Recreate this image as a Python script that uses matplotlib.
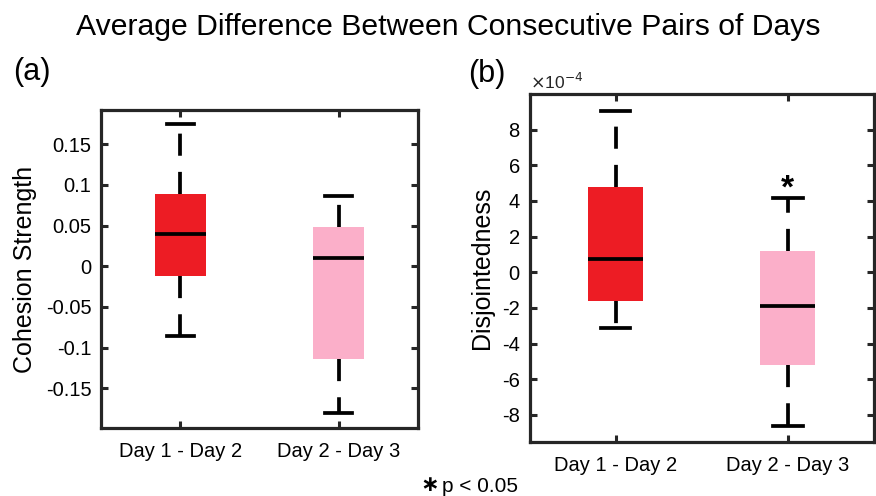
import matplotlib
matplotlib.use("Agg")
import matplotlib.pyplot as plt

plt.rcParams['font.family'] = ['Liberation Sans', 'DejaVu Sans']

categories = ["Day 1 - Day 2", "Day 2 - Day 3"]
box_colors = ["#ED1C24", "#FBAFC9"]

# Panel (a): Cohesion Strength
coh_whislo = [-0.0857, -0.1808]
coh_q1 = [-0.0115, -0.1143]
coh_med = [0.0400, 0.0106]
coh_q3 = [0.0893, 0.0480]
coh_whishi = [0.1750, 0.0864]

# Panel (b): Disjointedness (in units of 1e-4)
dis_whislo = [-3.14, -8.61]
dis_q1 = [-1.59, -5.19]
dis_med = [0.76, -1.90]
dis_q3 = [4.76, 1.19]
dis_whishi = [9.03, 4.14]

coh_ticks = [-0.15, -0.1, -0.05, 0, 0.05, 0.1, 0.15]
coh_ticklabels = ["-0.15", "-0.1", "-0.05", "0", "0.05", "0.1", "0.15"]
dis_ticks = [-8, -6, -4, -2, 0, 2, 4, 6, 8]
dis_ticklabels = ["-8", "-6", "-4", "-2", "0", "2", "4", "6", "8"]

fig = plt.figure(figsize=(8.76, 4.96), dpi=100)

frame_color = "#262626"
lw = 2.7


def draw_panel(ax, lo, q1, med, q3, hi, ylim, ticks, ticklabels, ylabel):
    stats = []
    for i in range(len(categories)):
        stats.append(dict(whislo=lo[i], q1=q1[i], med=med[i], q3=q3[i],
                          whishi=hi[i], label=categories[i]))
    bp = ax.bxp(stats, positions=[1, 2], widths=0.32, patch_artist=True,
                showfliers=False, capwidths=0.17,
                boxprops=dict(linewidth=0),
                medianprops=dict(color="black", linewidth=lw),
                whiskerprops=dict(color="black", linewidth=lw,
                                  linestyle=(0, (5.9, 4.3))),
                capprops=dict(color="black", linewidth=lw))
    for patch, c in zip(bp['boxes'], box_colors):
        patch.set_facecolor(c)
        patch.set_edgecolor(c)
    ax.set_xlim(0.5, 2.5)
    ax.set_ylim(*ylim)
    ax.set_yticks(ticks)
    ax.set_yticklabels(ticklabels)
    ax.set_xticks([1, 2])
    ax.set_xticklabels(categories)
    ax.tick_params(direction='in', length=5, width=2.2, color=frame_color,
                   labelsize=14.5, top=True, right=True, pad=7)
    ax.tick_params(axis='x', pad=10)
    for s in ax.spines.values():
        s.set_linewidth(2.3)
        s.set_color(frame_color)
    ax.set_ylabel(ylabel, fontsize=18, labelpad=6)


ax1 = fig.add_axes([0.1153, 0.137, 0.477 - 0.1153, 0.778 - 0.137])
draw_panel(ax1, coh_whislo, coh_q1, coh_med, coh_q3, coh_whishi,
           (-0.199, 0.192), coh_ticks, coh_ticklabels, "Cohesion Strength")

ax2 = fig.add_axes([0.6045, 0.108, 0.9977 - 0.6045, 0.8105 - 0.108])
draw_panel(ax2, dis_whislo, dis_q1, dis_med, dis_q3, dis_whishi,
           (-9.55, 10.0), dis_ticks, dis_ticklabels, "Disjointedness")

ax2.text(0.0, 1.005, r"$\times$10$^{-4}$", transform=ax2.transAxes,
         fontsize=12.5, ha='left', va='bottom', color="#262626")
ax2.text(2, 4.2, "*", fontsize=24, fontweight='bold', ha='center',
         va='baseline')

fig.text(0.512, 0.945, "Average Difference Between Consecutive Pairs of Days",
         fontsize=21.7, ha='center', va='center')
fig.text(0.036, 0.855, "(a)", fontsize=22, ha='center', va='center')
fig.text(0.556, 0.85, "(b)", fontsize=22, ha='center', va='center')
fig.text(0.480, 0.011, "\u2217", fontsize=16, fontweight='bold', ha='left',
         va='baseline', family=['DejaVu Sans'])
fig.text(0.505, 0.008, "p < 0.05", fontsize=15, ha='left', va='baseline')

fig.savefig("out.png", dpi=100)
